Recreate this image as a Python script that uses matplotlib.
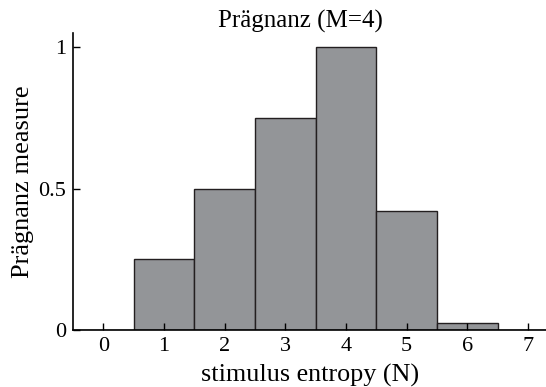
import matplotlib.pyplot as plt
import numpy as np

plt.rcParams['font.family'] = ['Liberation Serif', 'DejaVu Serif']

entropy = [0, 1, 2, 3, 4, 5, 6, 7]
measure = [0, 0.25, 0.5, 0.75, 1.0, 0.42, 0.025, 0]

fig = plt.figure(figsize=(5.46, 3.87), dpi=100)
ax = fig.add_axes([0.134, 0.147, 0.866, 0.768])

ax.bar(entropy, measure, width=1.0, color='#939598', edgecolor='#231f20', linewidth=1.0)

ax.set_xlim(-0.5, 7.3)
ax.set_ylim(0, 1.05)
ax.set_xticks(entropy)
ax.set_yticks([0, 0.5, 1])
ax.set_yticklabels(['0', '0.5', '1'])
ax.tick_params(direction='in', length=5, labelsize=16, width=1, pad=5)
ax.spines['right'].set_visible(False)
ax.spines['top'].set_visible(False)
for s in ['left', 'bottom']:
    ax.spines[s].set_linewidth(1.2)

ax.set_title('Prägnanz (M=4)', fontsize=18, pad=3, x=0.481)
ax.set_xlabel('stimulus entropy (N)', fontsize=18.8, labelpad=5.5)
ax.set_ylabel('Prägnanz measure', fontsize=19, labelpad=3)

fig.savefig('out.png', dpi=100)
